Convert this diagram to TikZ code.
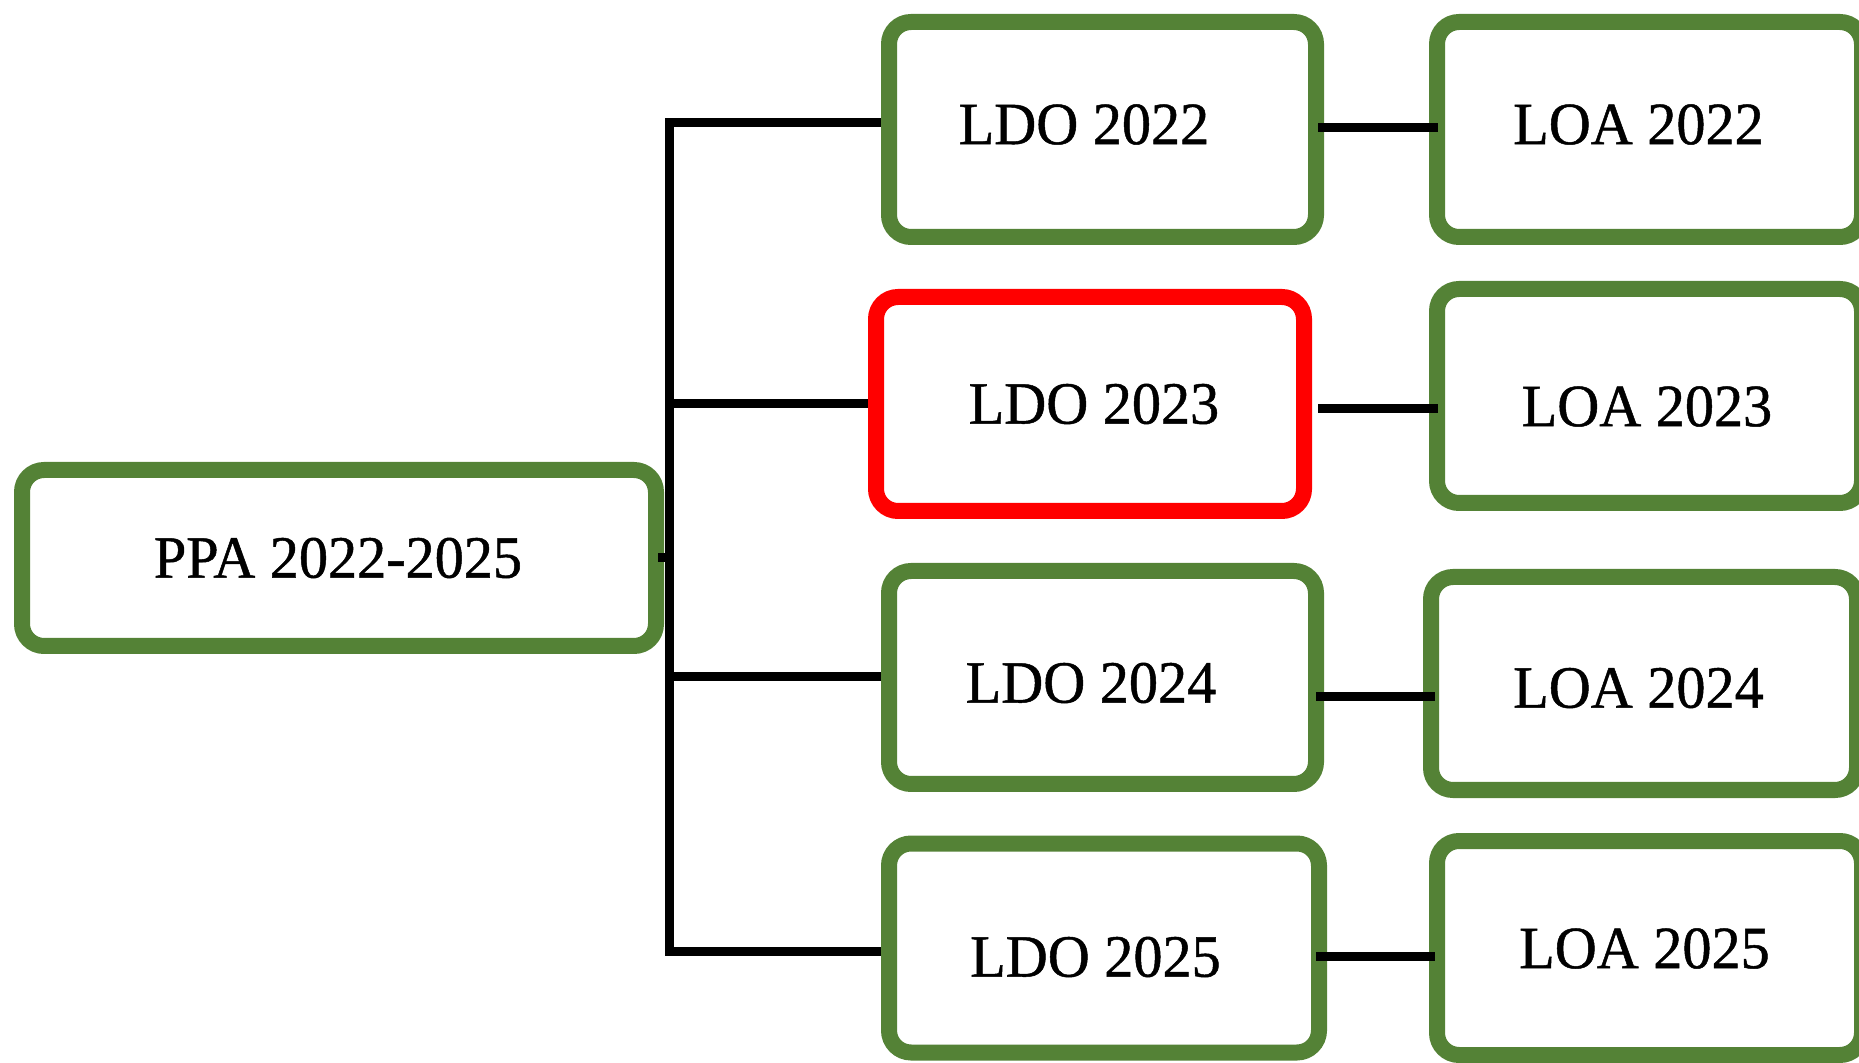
\documentclass[tikz,border=0pt]{standalone}
\usepackage{fontspec}
\setmainfont{Liberation Serif}
\newfontfamily\lblfont[FakeBold=0.8,FakeStretch=0.97]{Liberation Serif}
\definecolor{boxgreen}{RGB}{84,130,54}
\definecolor{boxred}{RGB}{255,0,0}
\begin{document}
\begin{tikzpicture}[x=0.5pt,y=-0.5pt,
  gbox/.style={draw=boxgreen,fill=white,line width=8pt,rounded corners=11pt,inner sep=0pt},
  rbox/.style={gbox,draw=boxred},
  lbl/.style={font=\lblfont\fontsize{30}{36}\selectfont,inner sep=0pt},
  conn/.style={draw=black,line width=4.5pt,line join=miter,line cap=butt}]
\useasboundingbox (0,0) rectangle (1859,1063);
% boxes
\node[gbox,minimum width=317pt,minimum height=88pt] (ppa) at (339,558) {};
\node[gbox,minimum width=213.5pt,minimum height=107.5pt] (l1) at (1102.5,129.5) {};
\node[rbox,minimum width=214pt,minimum height=107pt] (l2) at (1090,404) {};
\node[gbox,minimum width=213.5pt,minimum height=106.5pt] (l3) at (1102.5,677.5) {};
\node[gbox,minimum width=215pt,minimum height=104.5pt] (l4) at (1104,948) {};
\node[gbox,minimum width=212.5pt,minimum height=107.5pt] (a1) at (1649.5,129.5) {};
\node[gbox,minimum width=212.5pt,minimum height=107pt] (a2) at (1649.5,396) {};
\node[gbox,minimum width=213pt,minimum height=106.5pt] (a3) at (1644,683.5) {};
\node[gbox,minimum width=212.5pt,minimum height=107pt] (a4) at (1649.5,948) {};
% labels
\node[lbl] (tppa) at (338,558) {PPA 2022-2025};
\node[lbl] (tl1) at (1084,124.5) {LDO 2022};
\node[lbl] (tl2) at (1094,404) {LDO 2023};
\node[lbl] (tl3) at (1091,683) {LDO 2024};
\node[lbl] (tl4) at (1095.5,957) {LDO 2025};
\node[lbl] (ta1) at (1638.5,124.5) {LOA 2022};
\node[lbl] (ta2) at (1647,406.5) {LOA 2023};
\node[lbl] (ta3) at (1638.5,688) {LOA 2024};
\node[lbl] (ta4) at (1644.5,948.5) {LOA 2025};
% bus coordinates
\coordinate (b1) at (669,123);
\coordinate (b2) at (669,404);
\coordinate (b3) at (669,677);
\coordinate (b4) at (669,951);
\coordinate (bp) at (669,558);
% connectors
\draw[conn] (l1.west |- b1) -- (b1) -- (b4) -- (l4.west |- b4);
\draw[conn] (b2) -- (l2.west |- b2);
\draw[conn] (b3) -- (l3.west |- b3);
\draw[conn] ([xshift=-3pt]ppa.east |- bp) -- (bp);
\coordinate (c1) at (0,128);
\coordinate (c2) at (0,409);
\coordinate (c3) at (0,697);
\coordinate (c4) at (0,956);
\draw[conn] ([xshift=-3pt]l1.east |- c1) -- ([xshift=4.5pt]a1.west |- c1);
\draw[conn] ([xshift=3pt]l2.east |- c2) -- ([xshift=4.5pt]a2.west |- c2);
\draw[conn] ([xshift=-4pt]l3.east |- c3) -- ([xshift=6pt]a3.west |- c3);
\draw[conn] ([xshift=-5.5pt]l4.east |- c4) -- ([xshift=3pt]a4.west |- c4);
\end{tikzpicture}
\end{document}
